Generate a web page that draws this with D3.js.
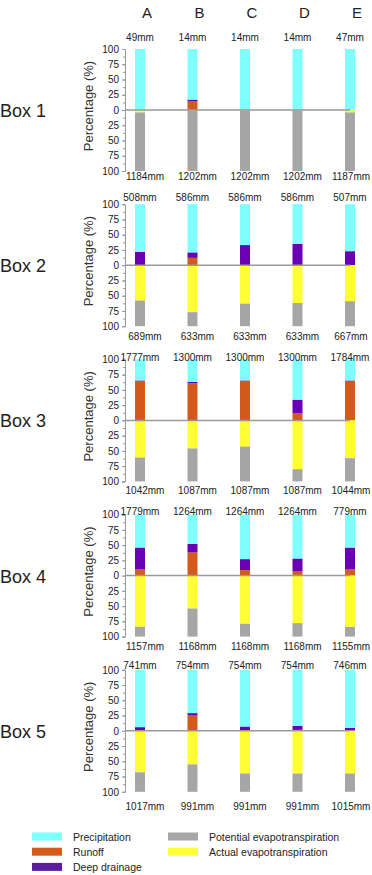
<!DOCTYPE html>
<html>
<head>
<meta charset="utf-8">
<script src="https://cdn.jsdelivr.net/npm/d3@7"></script>
<style>
  body { margin: 0; background: #fff; }
  text { font-family: "Liberation Sans", Arial, sans-serif; fill: #222; }
</style>
</head>
<body>
<div id="chart"></div>
<script>
// columns (scenarios) and boxes
const cols = ['A', 'B', 'C', 'D', 'E'];
const boxes = ['Box 1', 'Box 2', 'Box 3', 'Box 4', 'Box 5'];

// upper half: share of precipitation (%)
const runoff = [
  [0, 14, 0, 0, 0],
  [0, 12, 0, 0, 0],
  [65, 61, 65, 12, 65],
  [10, 38, 9, 7.5, 10],
  [0.5, 25, 1, 1.5, 0.5]
];
const drainage = [
  [0, 3, 0, 0, 0],
  [22, 9, 33, 35, 23],
  [0.6, 2, 0.6, 22, 0.6],
  [36, 14, 18, 20.5, 36],
  [5.5, 4, 6, 6.5, 4.5]
];
// lower half: actual ET as share of potential ET (%)
const aet = [
  [4, 1, 1, 1, 4],
  [58, 77, 63, 62, 59],
  [61, 46, 43, 80, 62],
  [84, 54, 79, 78, 84],
  [68, 55, 70, 70, 70]
];

// annual totals (mm)
const precipMM = [
  [49, 14, 14, 14, 47],
  [508, 586, 586, 586, 507],
  [1777, 1300, 1300, 1300, 1784],
  [1779, 1264, 1264, 1264, 779],
  [741, 754, 754, 754, 746]
];
const petMM = [
  [1184, 1202, 1202, 1202, 1187],
  [689, 633, 633, 633, 667],
  [1042, 1087, 1087, 1087, 1044],
  [1157, 1168, 1168, 1168, 1155],
  [1017, 991, 991, 991, 1015]
];

const ticks = [-100, -75, -50, -25, 0, 25, 50, 75, 100];

const colors = {
  precip: '#80ffff',
  runoff: '#d45a1c',
  drain: '#6a00b4',
  aet: '#ffff33',
  pet: '#a6a6a6'
};

const W = 372, H = 875;
const svg = d3.select('#chart').append('svg')
  .attr('width', W)
  .attr('height', H);

var x = d3.scalePoint().domain(cols).range([140, 350]);
const BAR_W = 10;
const AXIS_X = 125;
const HALF = 61;

// label offsets per panel (from the zero line)
const topDy = [-69, -64, -59, -61, -62];
const botDy = [70, 75, 74, 74, 79];

// column headers
svg.append('g').selectAll('text')
  .data(cols)
  .enter().append('text')
  .attr('x', d => x(d) + 7)
  .attr('y', 18)
  .attr('text-anchor', 'middle')
  .style('font-size', '15px')
  .text(d => d);

boxes.forEach(function(name, i) {
  const y0 = 110 + 155.2 * i;
  const y = d3.scaleLinear().domain([-100, 100]).range([y0 + HALF, y0 - HALF]);
  const g = svg.append('g');

  // box label
  g.append('text')
    .attr('x', 0)
    .attr('y', y0 + 7)
    .style('font-size', '18px')
    .text(name);

  // y label
  g.append('text')
    .attr('transform', `translate(93,${y0 - 4}) rotate(-90)`)
    .attr('text-anchor', 'middle')
    .style('font-size', '13px')
    .style('fill', '#333')
    .text('Percentage (%)');

  // minor ticks
  g.append('g')
    .attr('transform', `translate(${AXIS_X},0)`)
    .call(d3.axisLeft(y).tickValues(d3.range(-100, 101, 12.5)).tickSize(2).tickFormat(''))
    .call(a => a.select('.domain').remove())
    .selectAll('line').attr('stroke', '#999');

  // main axis
  const ax = g.append('g')
    .attr('transform', `translate(${AXIS_X},0)`)
    .call(d3.axisLeft(y).tickValues(ticks).tickSize(3).tickPadding(3)
      .tickFormat(d => Math.abs(d)));
  ax.select('.domain').attr('stroke', '#999');
  ax.selectAll('line').attr('stroke', '#999');
  ax.selectAll('text')
    .style('font-size', '10px')
    .style('font-family', '"Liberation Sans", Arial, sans-serif')
    .attr('fill', '#222');

  const rows = cols.map((c, j) => ({
    col: c,
    r: runoff[i][j],
    d: drainage[i][j],
    e: aet[i][j]
  }));

  // stacked segments: [from, to, colour]
  const segs = [];
  rows.forEach(row => {
    segs.push({col: row.col, a: 0, b: row.r, c: colors.runoff});
    segs.push({col: row.col, a: row.r, b: row.r + row.d, c: colors.drain});
    segs.push({col: row.col, a: row.r + row.d, b: 100, c: colors.precip});
    segs.push({col: row.col, a: 0, b: -row.e, c: colors.aet});
    segs.push({col: row.col, a: -row.e, b: -100, c: colors.pet});
  });

  g.append('g').selectAll('rect')
    .data(segs.filter(s => s.a !== s.b))
    .enter().append('rect')
    .attr('x', s => x(s.col) - BAR_W / 2)
    .attr('width', BAR_W)
    .attr('y', s => Math.min(y(s.a), y(s.b)))
    .attr('height', s => Math.abs(y(s.a) - y(s.b)))
    .attr('fill', s => s.c);

  // zero line
  g.append('line')
    .attr('x1', AXIS_X).attr('x2', x('E'))
    .attr('y1', y(0)).attr('y2', y(0))
    .attr('stroke', '#999')
    .attr('stroke-width', 1.5);

  // mm labels
  g.append('g').selectAll('text')
    .data(cols)
    .enter().append('text')
    .attr('x', d => x(d))
    .attr('y', y0 + topDy[i])
    .attr('text-anchor', 'middle')
    .style('font-size', '10px')
    .text((d, j) => precipMM[i][j] + 'mm');

  g.append('g').selectAll('text')
    .data(cols)
    .enter().append('text')
    .attr('x', d => Math.min(x(d) + 5, W - 21))
    .attr('y', y0 + botDy[i])
    .attr('text-anchor', 'middle')
    .style('font-size', '10px')
    .text((d, j) => petMM[i][j] + 'mm');
});

// legend
const legendItems = [
  {label: 'Precipitation', c: colors.precip, col: 0, row: 0},
  {label: 'Runoff', c: colors.runoff, col: 0, row: 1},
  {label: 'Deep drainage', c: '#5c1ca0', col: 0, row: 2},
  {label: 'Potential evapotranspiration', c: colors.pet, col: 1, row: 0},
  {label: 'Actual evapotranspiration', c: colors.aet, col: 1, row: 1}
];
const leg = svg.append('g');
const li = leg.selectAll('g')
  .data(legendItems)
  .enter().append('g')
  .attr('transform', d => `translate(${d.col ? 168 : 32},${836.5 + d.row * 15.2})`);
li.append('rect')
  .attr('x', 0).attr('y', -4)
  .attr('width', 30).attr('height', 8)
  .attr('fill', d => d.c);
li.append('text')
  .attr('x', 41).attr('y', 4)
  .style('font-size', '10.5px')
  .text(d => d.label);
</script>
</body>
</html>
